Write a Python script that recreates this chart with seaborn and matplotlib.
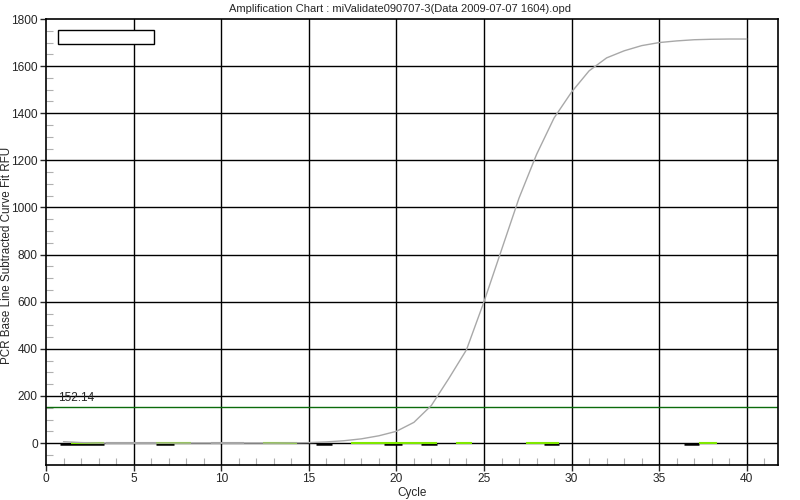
import numpy as np
import pandas as pd
import matplotlib
matplotlib.use('Agg')
import matplotlib.pyplot as plt
import seaborn as sns
from matplotlib.ticker import MultipleLocator
from matplotlib.patches import Rectangle

# ── Data ──────────────────────────────────────────────────────────────────────
cycles = list(range(1, 41))
rfu = [6, 2, 0, 0, 0, 0, 0, 0, 0, 0, 0, 0, 0, 1, 2, 5, 10, 18, 31, 50,
       88, 160, 275, 396, 600, 820, 1040, 1225, 1380, 1490, 1580, 1635,
       1665, 1687, 1700, 1707, 1712, 1714, 1715, 1715]

threshold = 152.14

# flat traces near baseline, visible pieces (cycle start, cycle end)
black_starts = [0.8, 6.3, 15.4, 19.3, 21.4, 28.4, 36.4]
black_ends   = [3.3, 7.3, 16.3, 20.3, 22.3, 29.3, 37.3]
green_starts = [1.4, 6.3, 12.4, 17.4, 23.4, 27.4, 37.3]
green_ends   = [3.3, 8.3, 14.3, 22.3, 24.3, 29.3, 38.3]
gray_starts  = [3.4, 9.4]
gray_ends    = [6.3, 11.3]

title = 'Amplification Chart : miValidate090707-3(Data 2009-07-07 1604).opd'

# ── Style ─────────────────────────────────────────────────────────────────────
sns.set_style('white')
plt.rcParams['font.family'] = ['Liberation Sans', 'DejaVu Sans']

fig = plt.figure(figsize=(8, 5), dpi=100)
ax = fig.add_axes([0.0575, 0.07, 0.9154, 0.892])

# major grid
for x in range(5, 45, 5):
    ax.axvline(x, color='black', linewidth=1.0, zorder=1)
for y in range(0, 1800, 200):
    ax.axhline(y, color='black', linewidth=1.0, zorder=1)

# baseline traces
ax.hlines([-2] * len(black_starts), black_starts, black_ends,
          color='black', linewidth=1.8, zorder=3)
ax.hlines([-1] * len(green_starts), green_starts, green_ends,
          color='#80e800', linewidth=1.5, zorder=4)
ax.hlines([0] * len(gray_starts), gray_starts, gray_ends,
          color='#a0a0a0', linewidth=1.5, zorder=3)

# amplification curve
df = pd.DataFrame({'Cycle': cycles, 'RFU': rfu})
sns.lineplot(data=df, x='Cycle', y='RFU', color='#a8a8a8',
             linewidth=1.0, ax=ax, zorder=5)

# threshold
ax.axhline(threshold, color='#0b6b0b', linewidth=1.0, zorder=2)
ax.text(0.7, threshold + 12, f'{threshold:.2f}', fontsize=8.5, va='bottom',
        ha='left', zorder=6)

# empty legend box
ax.add_patch(Rectangle((0.016, 0.944), 0.132, 0.031, transform=ax.transAxes,
                       facecolor='white', edgecolor='black', linewidth=1.0,
                       zorder=6))

ax.set_xlim(0, 41.8)
ax.set_ylim(-93, 1800)
ax.xaxis.set_major_locator(MultipleLocator(5))
ax.yaxis.set_major_locator(MultipleLocator(200))
ax.xaxis.set_minor_locator(MultipleLocator(1))
ax.yaxis.set_minor_locator(MultipleLocator(50))
ax.tick_params(which='major', direction='out', length=4, width=1,
               labelsize=8.6, pad=2, left=True, bottom=True)
ax.tick_params(which='minor', direction='in', length=5, width=0.8,
               color='#b0b0b0', left=True, bottom=True)

for s in ax.spines.values():
    s.set_color('black')
    s.set_linewidth(1.2)

ax.set_xlabel('Cycle', fontsize=8.5, labelpad=1)
ax.set_ylabel('PCR Base Line Subtracted Curve Fit RFU', fontsize=8.4)
ax.yaxis.set_label_coords(-0.045, 0.469)
fig.text(0.5, 0.993, title, fontsize=8, ha='center', va='top')

fig.savefig('out.png', dpi=100)
